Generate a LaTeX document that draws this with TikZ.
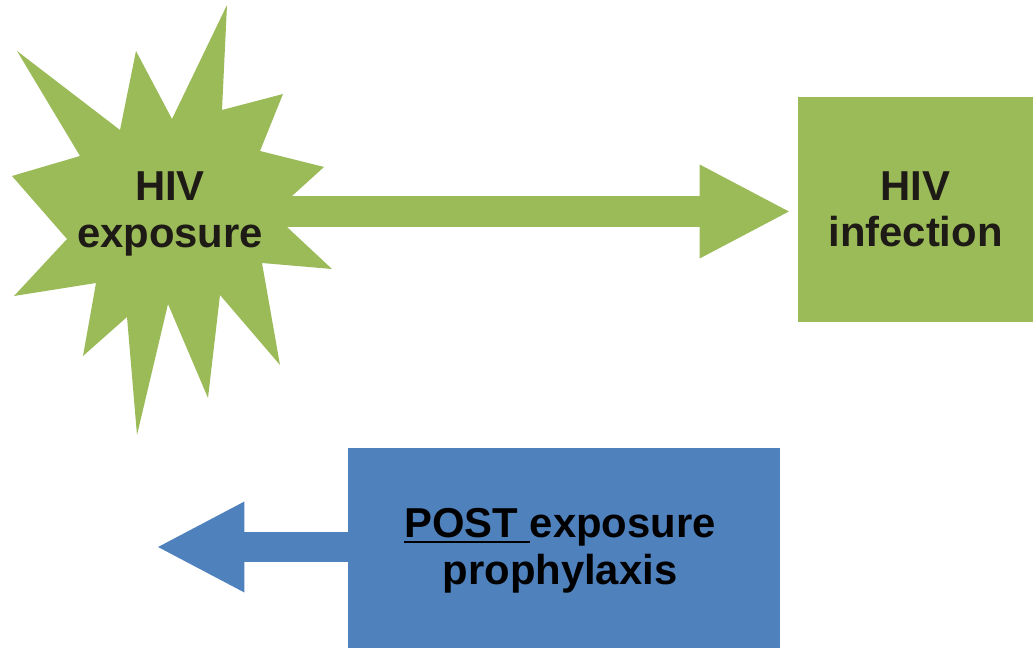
\documentclass[tikz,border=0pt]{standalone}
\usepackage{fontspec}
\setmainfont{Liberation Sans}
\usetikzlibrary{arrows.meta,positioning}
\definecolor{hivgreen}{HTML}{9BBB59}
\definecolor{pepblue}{HTML}{4F81BD}
\definecolor{inkdark}{HTML}{1E1A15}
\newcommand\thickul[1]{\setbox0\hbox{#1}\rlap{\rule[-2.6pt]{\wd0}{1.1pt}}\box0}

\begin{document}
\begin{tikzpicture}
[
x=0.02cm, y=-0.02cm,
boxtext/.style={font=\bfseries\fontsize{23.8}{26.5}\selectfont, align=center, inner sep=1pt},
greenbox/.style={fill=hivgreen, text=inkdark, minimum width=4.7cm, minimum height=4.5cm, boxtext},
bluebox/.style={fill=pepblue, text=black, minimum width=8.64cm, minimum height=4cm, boxtext},
blockarrow/.style 2 args={draw=#1, line width=#2, -{Triangle[length=2.95*#2, width=2.8*#2]}},
]
\useasboundingbox (0,0) rectangle (1033,648);

%The burst
\fill[hivgreen] (227,5) -- (222,110) -- (283,94) -- (260,151) -- (324,167)
  -- (292,196) -- (330,211) -- (287,227) -- (332,269) -- (262,263) -- (280,365)
  -- (220,295) -- (208,398) -- (168,304) -- (137,435) -- (127,317) -- (83,356)
  -- (96,283) -- (14,296) -- (67,239) -- (12,176) -- (80,156) -- (17,51)
  -- (120,130) -- (136,51) -- (172,119) -- cycle;

%Place the nodes
\node[boxtext, text=inkdark] (exposure) at (170,214) {HIV\\exposure};
\node[greenbox] (infection) at (915.5,209.5) {HIV\\infection};
\node[bluebox] (post) at (564,548) {};
\node[boxtext] (pep) at (560,551) {\thickul{POST\ }exposure\\prophylaxis};
\coordinate (gtip) at (791,211.5);
\coordinate (btip) at (156,547);

%Draw the connections
\draw[blockarrow={hivgreen}{0.62cm}] (exposure.east |- gtip) -- (gtip);
\draw[blockarrow={pepblue}{0.6cm}] (post.west |- btip) -- (btip);
\end{tikzpicture}
\end{document}
